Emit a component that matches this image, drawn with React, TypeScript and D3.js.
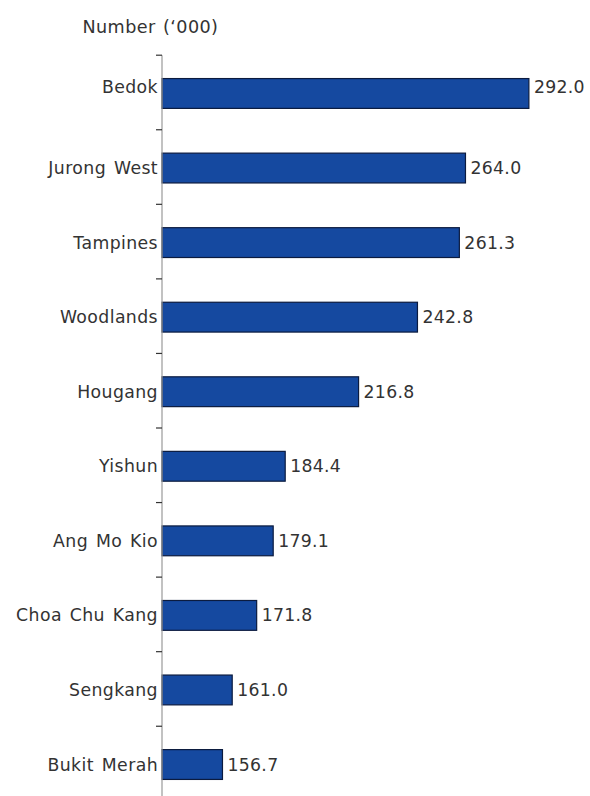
import React from "react";
import * as d3 from "d3";

const categories = ["Bedok", "Jurong West", "Tampines", "Woodlands", "Hougang", "Yishun", "Ang Mo Kio", "Choa Chu Kang", "Sengkang", "Bukit Merah"];
const values = [292.0, 264.0, 261.3, 242.8, 216.8, 184.4, 179.1, 171.8, 161.0, 156.7];
const axisTitle = "Number (\u2018000)";

const W = 590;
const H = 796;
const FONT = "Verdana, 'DejaVu Sans', sans-serif";

export default function App() {
  const x = d3.scaleLinear().domain([130, 300]).range([162, 547]);
  const y = d3
    .scaleBand<string>()
    .domain(categories)
    .range([56.2, 801.8])
    .paddingInner(0.6)
    .paddingOuter(0.3);
  const step = y.step();
  const top = y.range()[0];
  const ticks = d3.range(categories.length + 1).map((i) => top + i * step);
  const x0 = x(130);

  return (
    <svg
      width={W}
      height={H}
      style={{ position: "absolute", left: 0, top: 0, display: "block", background: "#fff" }}
      fontFamily={FONT}
    >
      <text x={82.5} y={33} fontSize={17.6} letterSpacing={0.4} wordSpacing={1.5} fill="#333">
        {axisTitle}
      </text>
      {categories.map((c, i) => {
        const yy = y(c)!;
        const bw = y.bandwidth();
        const dy = i === 0 ? -6.5 : 0;
        return (
          <g key={c}>
            <rect
              x={x0}
              y={yy}
              width={x(values[i]) - x0}
              height={bw}
              fill="#1549a0"
              stroke="#0b1b3f"
              strokeWidth={1.2}
            />
            <text
              x={x0 - 4}
              y={yy + bw / 2 + dy}
              textAnchor="end"
              dominantBaseline="central"
              fontSize={17.3}
              letterSpacing={0.4}
              wordSpacing={2}
              fill="#333"
            >
              {c}
            </text>
            <text
              x={x(values[i]) + 5}
              y={yy + bw / 2 + dy}
              dominantBaseline="central"
              fontSize={17.3}
              letterSpacing={0.3}
              fill="#333"
            >
              {values[i].toFixed(1)}
            </text>
          </g>
        );
      })}
      <line x1={x0} x2={x0} y1={top - 1} y2={H} stroke="#999" strokeWidth={1.2} />
      {ticks.map((t, i) => (
        <line key={i} x1={x0 - 6} x2={x0} y1={t - 1} y2={t - 1} stroke="#333" strokeWidth={1.2} />
      ))}
    </svg>
  );
}
